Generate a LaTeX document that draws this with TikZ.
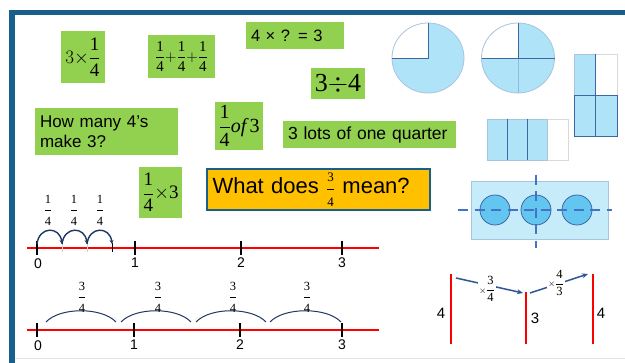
\RequirePackage{fix-cm}
\documentclass[tikz,border=0pt]{standalone}
\usepackage{amsmath}
\usepackage{fontspec}
\setmainfont{Liberation Sans}
\newfontfamily\serif{Liberation Serif}
\usetikzlibrary{arrows.meta}
\definecolor{boxgreen}{HTML}{92D050}
\definecolor{boxorange}{HTML}{FFC000}
\definecolor{frameblue}{HTML}{17608C}
\definecolor{pieblue}{HTML}{AEE3F8}
\definecolor{lightedge}{HTML}{A9C4DE}
\definecolor{darkedge}{HTML}{3F65A3}
\definecolor{panelblue}{HTML}{C6ECFA}
\definecolor{dotblue}{HTML}{63C6F0}
\definecolor{dashblue}{HTML}{4472C4}
\definecolor{arcnavy}{HTML}{1F3864}
\definecolor{arrowblue}{HTML}{2F5597}
\newcommand\fsz[1]{\fontsize{#1}{#1}\selectfont}
\newcommand\fr[2]{\dfrac{\text{\serif #1}}{\text{\serif #2}}}
% small digits on a roomier fraction
\newcommand\sfr[2]{\dfrac{\text{\fsz{12.5}\serif #1}}{\text{\fsz{12.5}\serif #2}}}
\begin{document}
\begin{tikzpicture}[x=1pt,y=-1pt,
  gbox/.style={fill=boxgreen, inner sep=0pt},
  gtext/.style={fill=boxgreen, inner ysep=0pt, inner xsep=5pt, align=left},
  redline/.style={red, line width=2pt},
  bigtick/.style={black, line width=2pt},
  numlab/.style={font=\fsz{14}, inner sep=0pt},
  fraclab/.style={font=\fsz{16}, inner sep=0pt},
  hop/.style={arcnavy, line width=1.4pt, -{Stealth[length=4pt,width=4pt]}},
  bighop/.style={arcnavy, line width=1pt},
  bar/.style={red, line width=2pt},
  mularrow/.style={arrowblue, line width=1.5pt, -{Stealth[length=6pt,width=5pt]}},
  dashy/.style={dashblue, line width=2.5pt, dash pattern=on 10pt off 6.5pt},
  thinlight/.style={lightedge, line width=0.8pt},
  thindark/.style={darkedge, line width=0.9pt}]
\useasboundingbox (0,0) rectangle (625,363);
\fill[white] (0,0) rectangle (625,363);
% frame
\fill[frameblue] (9,10) rectangle (625,15);
\fill[frameblue] (9,10) rectangle (15,363);
\draw[gray!20, line width=0.8pt] (15,358) -- (625,358);
% green boxes
\node[gbox, minimum width=44pt, minimum height=52pt, font=\fsz{19}] (b1) at (83,57) {$3{\times}\fr14$};
\node[gbox, minimum width=67pt, minimum height=43pt, font=\fsz{15}] (b2) at (181.5,56.5) {$\fr14{+}\fr14{+}\fr14$};
\node[gtext, text width=88pt, minimum height=27pt, font=\fsz{16.5}] (b3) at (295,35.5) {4 × ? = 3};
\node[gbox, minimum width=54pt, minimum height=31pt, font=\fsz{26}] (b4) at (338,83.5) {$\text{\serif 3}{\div}\text{\serif 4}$};
\node[gtext, text width=133pt, minimum height=47pt, font=\fontsize{17}{20}\selectfont] (b5) at (106.5,131.5) {How many 4’s\\make 3?};
\node[gbox, minimum width=48pt, minimum height=48pt, font=\fsz{20}] (b6) at (239,126) {$\fr14\text{\serif\itshape of\,\upshape 3}$};
\node[gtext, text width=163pt, minimum height=27pt, font=\fsz{17.5}] (b7) at (369.5,134.5) {3 lots of one quarter};
\node[gbox, minimum width=43pt, minimum height=51pt, font=\fsz{19}] (b8) at (160.5,192.5) {$\fr14{\times}\text{\serif 3}$};
\node[fill=boxorange, draw=frameblue, line width=2.5pt, text width=212pt, inner xsep=5.5pt, inner ysep=0pt, minimum height=41pt, align=left, font=\fsz{22}] (q) at (318.5,189.5)
  {What does {\fsz{18}$\dfrac{\text{\fsz{13}\serif 3}}{\text{\fsz{13}\serif 4}}$} mean?};
% pie 1
\fill[pieblue] (428,58) ellipse[x radius=36pt, y radius=35pt];
\begin{scope}
  \clip (390,20) rectangle (428,58);
  \fill[white] (428,58) ellipse[x radius=36pt, y radius=35pt];
\end{scope}
\draw[thinlight] (428,58) ellipse[x radius=36pt, y radius=35pt];
\draw[thindark] (428,23) -- (428,58) -- (392,58);
% pie 2
\fill[pieblue] (518,58) ellipse[x radius=36.5pt, y radius=35pt];
\begin{scope}
  \clip (480,20) rectangle (518,58);
  \fill[white] (518,58) ellipse[x radius=36.5pt, y radius=35pt];
\end{scope}
\draw[thinlight] (518,58) ellipse[x radius=36.5pt, y radius=35pt];
\draw[pieblue!70!darkedge, line width=0.5pt] (518,58) -- (518,93);
\draw[thindark] (481.5,58) -- (554.5,58);
\draw[thindark] (518,23) -- (518,58);
% tall rectangle
\fill[pieblue] (574,54) rectangle (595,136);
\fill[pieblue] (595,95) rectangle (617,136);
\draw[gray!30, line width=0.8pt] (595,54) rectangle (617,95);
\draw[thinlight] (574,54) rectangle (595,95);
\draw[thindark] (574,95) rectangle (617,136);
\draw[thindark] (595,54) -- (595,136);
% wide rectangle
\fill[pieblue] (487,119) rectangle (547,160);
\draw[gray!30, line width=0.8pt] (547,119) rectangle (568,160);
\draw[thinlight] (487,119) rectangle (547,160);
\draw[thinlight] (547,119) -- (547,160);
\draw[thindark] (507,119) -- (507,160);
\draw[thindark] (527,119) -- (527,160);
% panel with circles
\draw[fill=panelblue, draw=lightedge, line width=0.8pt] (471,181) rectangle (608,239);
\node[circle, minimum size=30pt, inner sep=0pt, fill=dotblue, draw=darkedge, line width=0.8pt] (c1) at (495,210) {};
\node[circle, minimum size=30pt, inner sep=0pt, fill=dotblue, draw=darkedge, line width=0.8pt] (c2) at (536,210) {};
\node[circle, minimum size=30pt, inner sep=0pt, fill=dotblue, draw=darkedge, line width=0.8pt] (c3) at (577,210) {};
\draw[dashy] (458,210) -- (612,210);
\draw[dashy] (536,175) -- (536,248);
% number line 1
\draw[redline] (27,248) -- (379,248);
\draw[gray!35, line width=0.8pt] (62,244) -- (62,252);
\draw[gray!35, line width=0.8pt] (87,244) -- (87,252);
\draw[black, line width=1pt] (112,243) -- (112,252);
\draw[bigtick] (37,241) -- (37,255);
\draw[bigtick] (135,241) -- (135,255);
\draw[bigtick] (241,241) -- (241,255);
\draw[bigtick] (342,241) -- (342,255);
\node[numlab] (n10) at (38,264) {0};
\node[numlab] (n11) at (135,263) {1};
\node[numlab] (n12) at (241,263) {2};
\node[numlab] (n13) at (342,263) {3};
\coordinate (h0) at (37,244);
\coordinate (h1) at (62,244);
\coordinate (h2) at (87,244);
\coordinate (h3) at (112,244);
\draw[hop] (h0) .. controls (39,226) and (60,226) .. (h1);
\draw[hop] (h1) .. controls (64,226) and (85,226) .. (h2);
\draw[hop] (h2) .. controls (89,226) and (110,226) .. (h3);
\node[fraclab] (f1) at (48,210) {$\sfr14$};
\node[fraclab] (f2) at (74,210) {$\sfr14$};
\node[fraclab] (f3) at (100,210) {$\sfr14$};
% number line 2
\draw[redline] (27,330) -- (379,330);
\draw[bigtick] (37,323) -- (37,337);
\draw[bigtick] (134,323) -- (134,337);
\draw[bigtick] (240,323) -- (240,337);
\draw[bigtick] (342,323) -- (342,337);
\node[numlab] (n20) at (38,346) {0};
\node[numlab] (n21) at (134,345) {1};
\node[numlab] (n22) at (240,345) {2};
\node[numlab] (n23) at (342,345) {3};
\coordinate (s0) at (46,322);
\coordinate (e0) at (116,322);
\coordinate (s1) at (121,322);
\coordinate (e1) at (191,322);
\coordinate (s2) at (196,322);
\coordinate (e2) at (266,322);
\coordinate (s3) at (270,322);
\coordinate (e3) at (341,322);
\draw[bighop] (s0) .. controls (60,307) and (102,307) .. (e0);
\draw[bighop] (s1) .. controls (135,307) and (177,307) .. (e1);
\draw[bighop] (s2) .. controls (210,307) and (252,307) .. (e2);
\draw[bighop] (s3) .. controls (284,307) and (327,307) .. (e3);
\node[fraclab] (g1) at (82,297) {$\sfr34$};
\node[fraclab] (g2) at (158,297) {$\sfr34$};
\node[fraclab] (g3) at (233,297) {$\sfr34$};
\node[fraclab] (g4) at (307,297) {$\sfr34$};
% bars
\draw[bar] (451,274) -- (451,344);
\draw[bar] (526,292) -- (526,344);
\draw[bar] (593,274) -- (593,344);
\node[font=\fsz{15}, inner sep=0pt] (l1) at (441,313) {4};
\node[font=\fsz{15}, inner sep=0pt] (l2) at (535,318) {3};
\node[font=\fsz{15}, inner sep=0pt] (l3) at (601,313) {4};
\coordinate (a1) at (456,278);
\coordinate (a2) at (523,293);
\coordinate (a3) at (530,293);
\coordinate (a4) at (588,274);
\draw[mularrow] (a1) -- (a2);
\draw[mularrow] (a3) -- (a4);
\node[fill=white, inner sep=1pt, font=\fsz{12.5}] (m1) at (487,289) {$\scriptstyle\times\displaystyle\fr34$};
\node[fill=white, inner sep=1pt, font=\fsz{12.5}] (m2) at (556,283) {$\scriptstyle\times\displaystyle\fr43$};
\end{tikzpicture}
\end{document}
